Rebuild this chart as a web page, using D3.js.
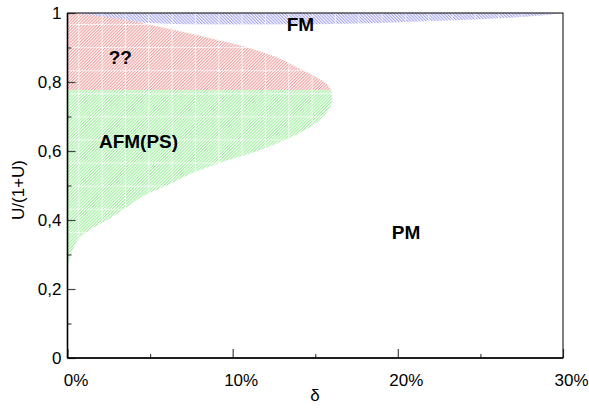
<!DOCTYPE html>
<html>
<head>
<meta charset="utf-8">
<script src="https://cdn.jsdelivr.net/npm/d3@7"></script>
<style>
  html, body { margin: 0; padding: 0; background: #fff; }
  svg { display: block; font-family: "Liberation Sans", Arial, sans-serif; }
</style>
</head>
<body>
<svg id="chart" width="589" height="410"></svg>
<script>
// ---- data ----
const xMajorTicks = [0, 10, 20, 30];
const xMinorTicks = [5, 15, 25];
const yMajorTicks = [0, 0.2, 0.4, 0.6, 0.8, 1];
const yMinorTicks = [0.1, 0.3, 0.5, 0.7, 0.9];
const xTickLabels = ["0%", "10%", "20%", "30%"];
const yTickLabels = ["0", "0,2", "0,4", "0,6", "0,8", "1"];

// FM region: between U=1 and this lower boundary
const fmDelta = [0.3, 1, 2, 3.5, 5, 8, 12, 16, 19, 22, 25, 27, 28.5, 29.5, 30];
const fmLower = [1.0, 0.993, 0.985, 0.977, 0.971, 0.967, 0.966, 0.968, 0.971, 0.977, 0.982, 0.987, 0.992, 0.997, 1.0];

// "??" region: from delta=0 to this boundary, for U in [0.777, 1]
const unkU     = [1.0, 0.983, 0.968, 0.949, 0.929, 0.900, 0.871, 0.842, 0.813, 0.794, 0.777];
const unkDelta = [0.35, 3.2, 4.8, 6.6, 8.45, 10.9, 12.7, 13.9, 15.1, 15.7, 15.95];

// AFM(PS) region: from delta=0 to this boundary
const afmU     = [0.777, 0.74, 0.711, 0.682, 0.643, 0.602, 0.576, 0.537, 0.5, 0.469, 0.43, 0.399, 0.372, 0.343, 0.305, 0.265];
const afmDelta = [15.99, 16.0, 15.69, 15.08, 13.65, 11.6, 9.9, 7.6, 6.0, 4.57, 3.36, 2.37, 1.36, 0.64, 0.25, 0];

// region labels
const regionNames = ["FM", "??", "AFM(PS)", "PM"];
const regionDelta = [14.1, 3.2, 4.3, 20.5];
const regionU     = [0.948, 0.853, 0.609, 0.346];

// ---- drawing ----
const svg = d3.select("#chart");
const mLeft = 67.5, mRight = 563, mTop = 13, mBottom = 358;
const x = d3.scaleLinear().domain([0, 30]).range([mLeft, mRight]);
const y = d3.scaleLinear().domain([0, 1]).range([mBottom, mTop]);

const defs = svg.append("defs");
function hatch(id, color, angle) {
  const p = defs.append("pattern").attr("id", id)
    .attr("patternUnits", "userSpaceOnUse")
    .attr("width", 2.2).attr("height", 2.2)
    .attr("patternTransform", `rotate(${angle})`);
  p.append("rect").attr("width", 2.2).attr("height", 2.2).attr("fill", "#fff");
  p.append("line").attr("x1", 0.55).attr("x2", 0.55).attr("y1", 0).attr("y2", 2.2)
    .attr("stroke", color).attr("stroke-width", 1.1);
}
hatch("hBlue", "#a4a4f2", -45);
hatch("hRed", "#f29c9c", 45);
hatch("hGreen", "#9cf09c", 45);

const g = defs.append("pattern").attr("id", "grid")
  .attr("patternUnits", "userSpaceOnUse")
  .attr("x", 78.3).attr("y", 93.3)
  .attr("width", 23.33).attr("height", 23.1);
g.append("line").attr("x1", 0.5).attr("x2", 0.5).attr("y1", 0).attr("y2", 23.1)
  .attr("stroke", "#fff").attr("stroke-width", 1).attr("stroke-dasharray", "2 1");
g.append("line").attr("x1", 0).attr("x2", 23.33).attr("y1", 0.5).attr("y2", 0.5)
  .attr("stroke", "#fff").attr("stroke-width", 1).attr("stroke-dasharray", "2 1");

// FM area
const fmData = fmDelta.map((d, i) => ({ d, u: fmLower[i] }));
const fmArea = d3.area().x(p => x(p.d)).y0(y(1)).y1(p => y(p.u)).curve(d3.curveMonotoneX);
// ?? area
const unkData = unkU.map((u, i) => ({ u, d: unkDelta[i] }));
const hArea = d3.area().y(p => y(p.u)).x0(x(0)).x1(p => x(p.d)).curve(d3.curveCatmullRom);
// AFM area
const afmData = afmU.map((u, i) => ({ u, d: afmDelta[i] }));

const regions = [
  { data: fmData, gen: fmArea, fill: "url(#hBlue)" },
  { data: unkData, gen: hArea, fill: "url(#hRed)" },
  { data: afmData, gen: hArea, fill: "url(#hGreen)" }
];
regions.forEach(r => {
  svg.append("path").attr("d", r.gen(r.data)).attr("fill", r.fill);
  svg.append("path").attr("d", r.gen(r.data)).attr("fill", "url(#grid)");
});

// axes
const yAxis = d3.axisLeft(y).tickValues(yMajorTicks).tickSize(-8).tickPadding(6)
  .tickFormat((d, i) => yTickLabels[i]);
const yMinor = d3.axisLeft(y).tickValues(yMinorTicks).tickSize(-4).tickFormat("");
const xAxis = d3.axisBottom(x).tickValues(xMajorTicks).tickSize(-9).tickPadding(15.5)
  .tickFormat((d, i) => xTickLabels[i]);
const xMinor = d3.axisBottom(x).tickValues(xMinorTicks).tickSize(-4).tickFormat("");

function styleAxis(sel) {
  sel.select(".domain").remove();
  sel.selectAll(".tick line").attr("stroke", "#444").attr("stroke-width", 1.2);
  sel.selectAll(".tick text").attr("font-size", 17).attr("fill", "#000")
    .attr("font-family", "'Liberation Sans', Arial, sans-serif");
}
svg.append("g").attr("transform", `translate(${mLeft},0)`).call(yAxis).call(styleAxis);
svg.append("g").attr("transform", `translate(${mLeft},0)`).call(yMinor).call(styleAxis);
svg.append("g").attr("transform", `translate(0,${mBottom})`).call(xAxis).call(styleAxis)
  .selectAll(".tick text").attr("dx", 8);
svg.append("g").attr("transform", `translate(0,${mBottom})`).call(xMinor).call(styleAxis);

// frame
svg.append("rect").attr("x", mLeft).attr("y", mTop).attr("width", mRight - mLeft).attr("height", mBottom - mTop)
  .attr("fill", "none").attr("stroke", "#000").attr("stroke-width", 1);
svg.append("line").attr("x1", mLeft).attr("x2", mLeft).attr("y1", mTop).attr("y2", mBottom)
  .attr("stroke", "#000").attr("stroke-width", 1.6);
svg.append("line").attr("x1", mLeft).attr("x2", mRight).attr("y1", mBottom).attr("y2", mBottom)
  .attr("stroke", "#000").attr("stroke-width", 1.6);

// axis titles
svg.append("text").attr("x", 315).attr("y", 401).attr("text-anchor", "middle")
  .attr("font-size", 17).text("δ");
svg.append("text").attr("transform", "translate(24,190) rotate(-90)").attr("text-anchor", "middle")
  .attr("font-size", 17).text("U/(1+U)");

// region labels
regionNames.forEach((t, i) => {
  svg.append("text").attr("x", x(regionDelta[i])).attr("y", y(regionU[i]))
    .attr("text-anchor", "middle").attr("font-weight", "bold").attr("font-size", 19)
    .attr("fill", "#000").text(t);
});
</script>
</body>
</html>
